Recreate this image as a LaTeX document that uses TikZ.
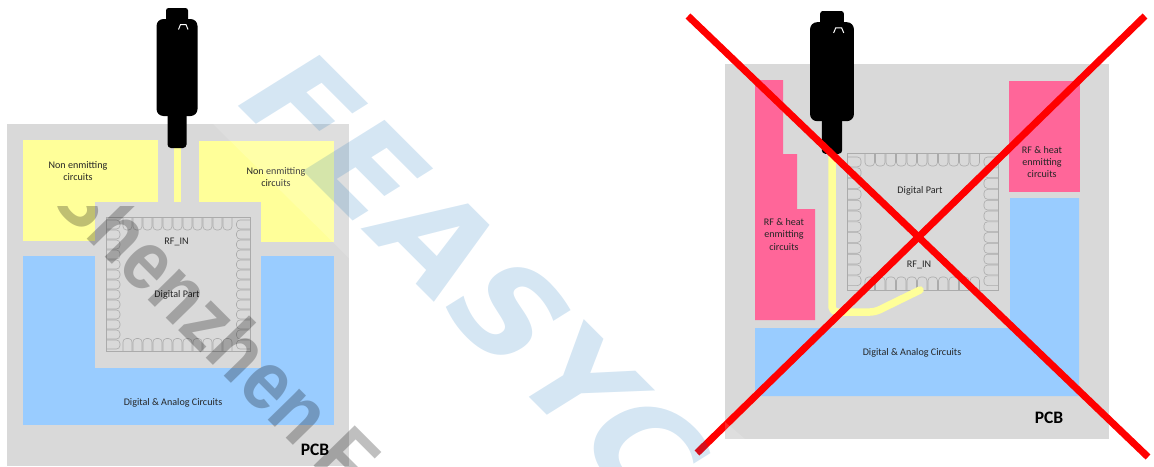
\documentclass[tikz,border=0pt]{standalone}
\usepackage{fontspec}
\setmainfont{Carlito}
\newfontfamily\markfont{Liberation Sans}
\newfontfamily\bigmarkfont{DejaVu Sans}
\usetikzlibrary{positioning, calc}
\definecolor{pcbgray}{HTML}{D9D9D9}
\definecolor{cleanyellow}{HTML}{FFFF99}
\definecolor{logicblue}{HTML}{99CCFF}
\definecolor{noisepink}{HTML}{FF6699}
\definecolor{padgray}{HTML}{ABABAB}
\definecolor{markblue}{RGB}{0,103,182}

% Row of pads {x}{y}{count}{spacing}{depth}
\newcommand{\padrow}[5]{
    \foreach \i in {1,...,#3} {
        \draw[padline] ({#1+(\i-1)*#4},#2) -- ++(0,#5) -- ++(#4-1,0) -- ++(0,-#5);
    }
}
% Column of pads {x}{y}{count}{spacing}{depth}
\newcommand{\padcol}[5]{
    \foreach \i in {1,...,#3} {
        \draw[padline] (#1,{#2+(\i-1)*#4}) -- ++(#5,0) -- ++(0,#4-1) -- ++(-#5,0);
    }
}

\begin{document}
\begin{tikzpicture}[
        x=1pt, y=-1pt,
        % Define styles for the board parts
        pcb/.style={fill=pcbgray},
        cleanbox/.style={fill=cleanyellow},
        logicbox/.style={fill=logicblue},
        noisebox/.style={fill=noisepink},
        trace/.style={draw=cleanyellow, line width=7.5pt, line cap=round, line join=round},
        padline/.style={draw=padgray, line width=0.6pt, rounded corners=3.5pt},
        label/.style={font=\fontsize{10.1}{12.3}\selectfont, align=center, text=black!85, inner sep=0pt},
        pcbname/.style={font=\fontsize{17.5}{19}\selectfont\bfseries, inner sep=0pt},
        cross/.style={draw=red, line width=7pt},
        plug/.style={fill=black},
        sheen/.style={fill=white, fill opacity=0.15}
    ]
    \useasboundingbox (0,0) rectangle (1154,466);
    \clip (0,0) rectangle (1154,466);

    % --- GOOD LAYOUT ---
    \fill[pcb] (7,124) rectangle (349,466);
    \fill[cleanbox] (23,140) rectangle (158,241);
    \fill[cleanbox] (199,141) rectangle (334,242);
    \fill[logicbox] (23,256) rectangle (334,425);
    \fill[pcb] (95,202) rectangle (261,368);
    \fill[cleanyellow] (174,146) rectangle (181,202);

    % Module pads
    \draw[padline, sharp corners] (106,217) rectangle (250.5,351.5);
    \padrow{123}{217}{11}{10}{13}
    \padrow{123}{351.5}{11}{10}{-13}
    \padcol{106}{220}{13}{10}{14}
    \padcol{250.5}{220}{13}{10}{-14}

    % Left board labels
    \node[label] (nonleft) at (78,171) {Non enmitting\\circuits};
    \node[label] (nonright) at (276,177) {Non enmitting\\circuits};
    \node[label] (rfleft) at (176.5,242) {RF\_IN};
    \node[label] (digleft) at (177,295) {Digital Part};
    \node[label] (analeft) at (173,402.5) {Digital \& Analog Circuits};
    \node[pcbname] (pcbleft) at (315,449.5) {PCB};

    % --- BAD LAYOUT ---
    \fill[pcb] (725,64) rectangle (1109,439);
    \fill[noisebox] (755,80) -- (783,80) -- (783,154) -- (797,154) -- (797,209) -- (815,209) -- (815,320) -- (755,320) -- cycle;
    \fill[noisebox] (1009,81) rectangle (1080,192);
    \fill[logicbox] (755,328) -- (1010,328) -- (1010,198) -- (1079,198) -- (1079,396) -- (755,396) -- cycle;

    % Module pads
    \draw[padline, sharp corners] (847,153) rectangle (998,290);
    \padrow{865}{153}{11}{10.5}{13}
    \padrow{865}{290}{11}{10.5}{-13}
    \padcol{847}{157}{12}{10.8}{14}
    \padcol{998}{157}{12}{10.8}{-14}

    % Yellow feed line
    \draw[trace, rounded corners=5pt] (832,154) -- (832,312) -- (875,312) -- (920,290);

    % Right board labels
    \node[label] (digright) at (920,190.5) {Digital Part};
    \node[label] (rfright) at (919,265) {RF\_IN};
    \node[label] (hotright) at (1042,162) {RF \& heat\\enmitting\\circuits};
    \node[label] (hotleft) at (784,234.5) {RF \& heat\\enmitting\\circuits};
    \node[label] (anaright) at (912,353) {Digital \& Analog Circuits};
    \node[pcbname] (pcbright) at (1049,417.5) {PCB};

    % --- ANTENNA CONNECTORS ---
    \foreach \cx/\cy/\sx/\sy in {177/8/1/1, 832/11/1.07/1.02} {
        \begin{scope}[shift={(\cx,\cy)}, xscale=\sx, yscale=\sy]
            \fill[plug, rounded corners=2.5pt] (-11,0) rectangle (11,14);
            \fill[plug, rounded corners=7pt] (-20.5,11) rectangle (20.5,108);
            \fill[plug, rounded corners=3.5pt] (-9.5,100) rectangle (9.5,140);
            \draw[white, line width=1pt] (1.5,21.5) -- (3.5,16.5) -- (9,16.5) -- (11,21.5);
        \end{scope}
    }

    % --- RED CROSS ---
    \draw[cross] (688,16) -- (1148,457);
    \draw[cross] (1145,16) -- (697,453);

    % --- WATERMARKS ---
    \fill[sheen] (213,124) -- (349,124) -- (349,258) -- cycle;
    \fill[sheen] (725,422) -- (745,439) -- (725,439) -- cycle;
    \begin{scope}[cm={0.96,-0.96,1.12,0.70,(229,97)}]
        \node[transform shape, anchor=base west, inner sep=0pt, text=markblue, text opacity=0.165,
            font=\fontsize{100}{100}\selectfont\bigmarkfont\bfseries] (feasy) at (0,0) {FEASYC};
    \end{scope}
    \begin{scope}
        \clip (0,206) rectangle (420,466);
        \begin{scope}[cm={0.72,-0.72,0.82,0.80,(48,200)}]
            \node[transform shape, anchor=base west, inner sep=0pt, text=black, text opacity=0.25,
                font=\fontsize{73}{73}\selectfont\markfont\bfseries] (shen) at (0,0) {Shenzhen F};
        \end{scope}
    \end{scope}
\end{tikzpicture}
\end{document}
